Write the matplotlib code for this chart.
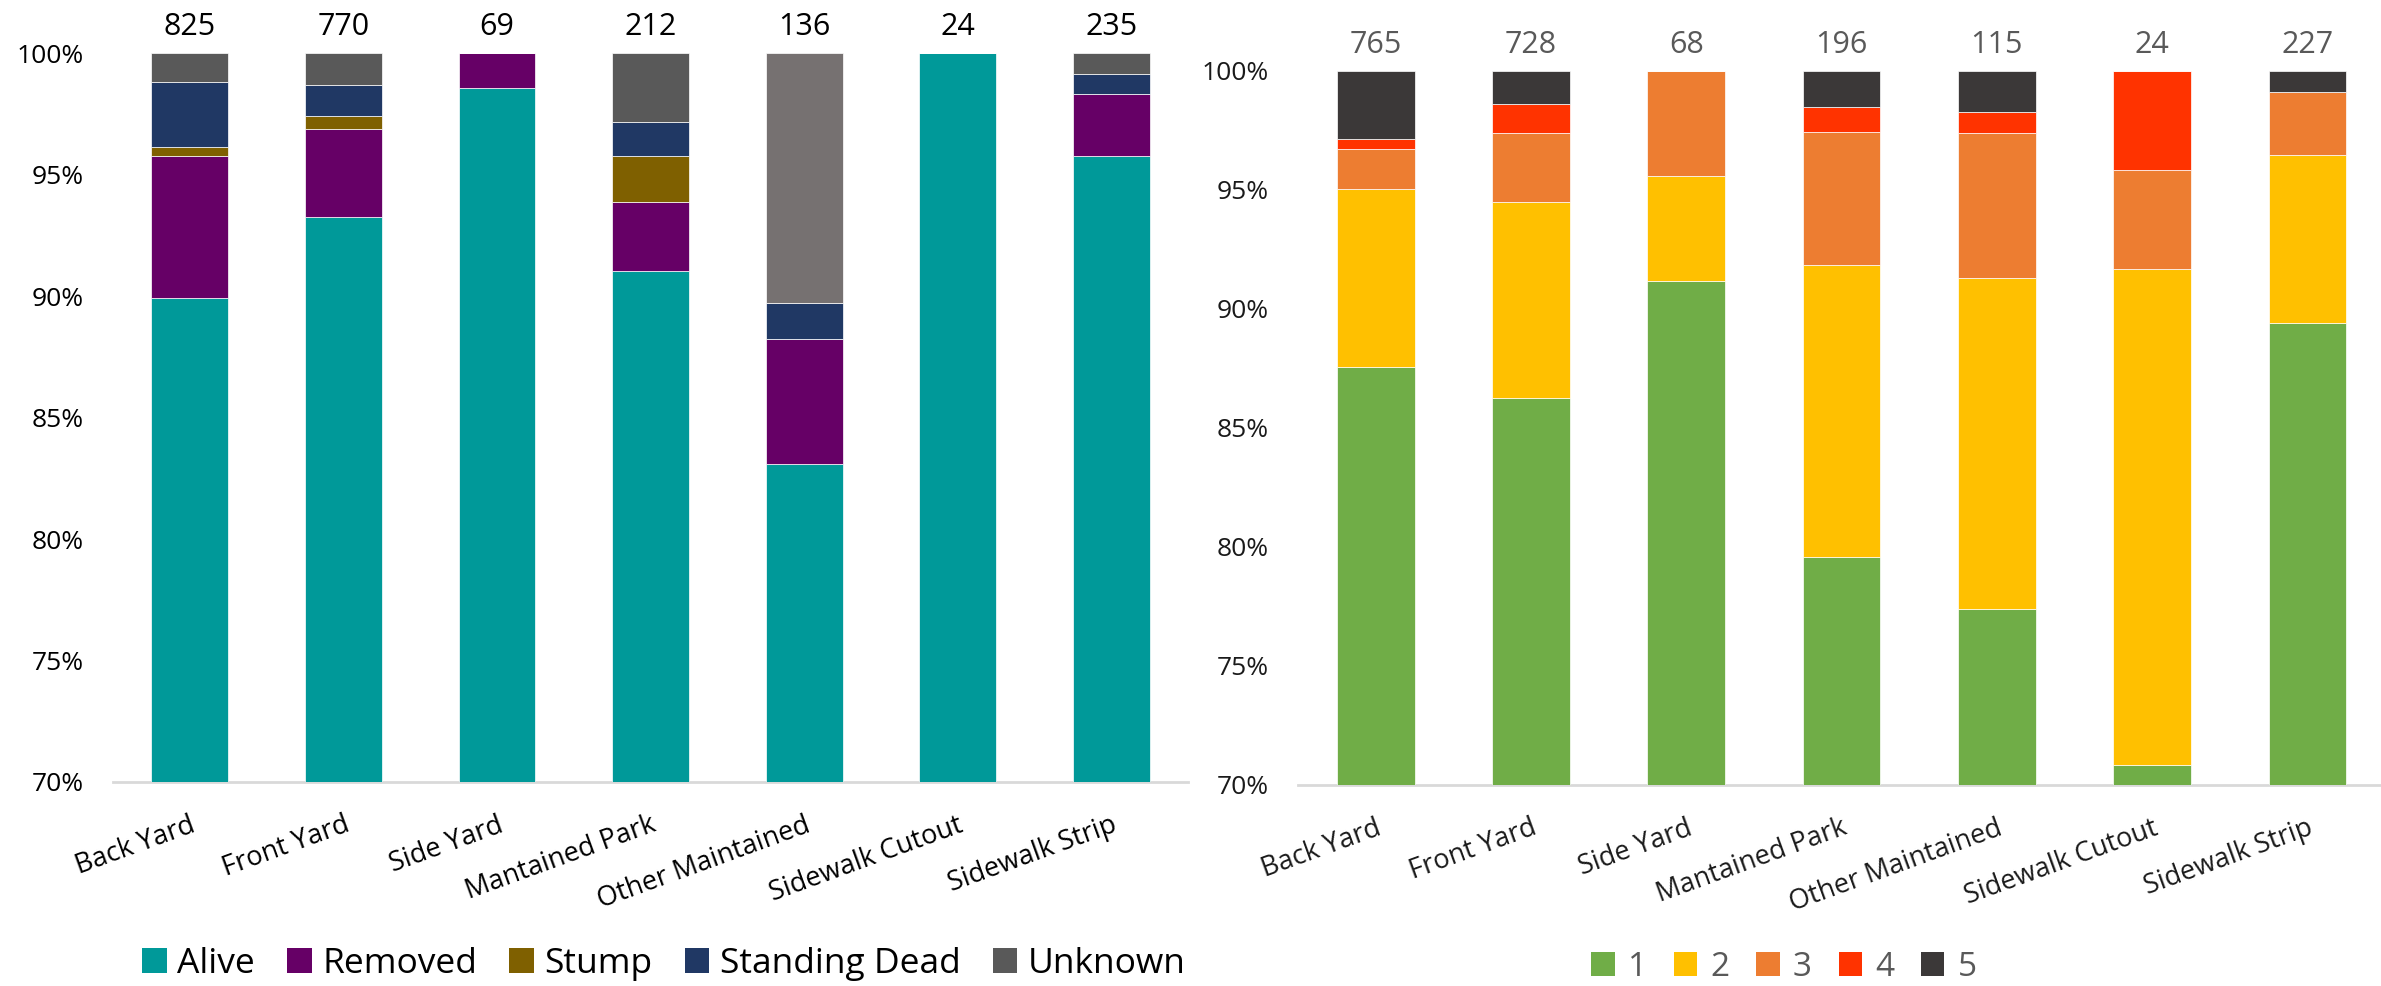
import numpy as np
import matplotlib.pyplot as plt
from matplotlib.patches import Patch
from matplotlib.ticker import PercentFormatter

plt.rcParams['font.family'] = ['Open Sans', 'DejaVu Sans']

locations = ['Back Yard', 'Front Yard', 'Side Yard', 'Mantained Park',
             'Other Maintained', 'Sidewalk Cutout', 'Sidewalk Strip']

# tree status counts per location
alive = [742, 718, 68, 193, 113, 24, 225]
removed = [48, 28, 1, 6, 7, 0, 6]
stump = [3, 4, 0, 4, 0, 0, 0]
standing_dead = [22, 10, 0, 3, 2, 0, 2]
unknown = [10, 10, 0, 6, 14, 0, 2]
status_names = ['Alive', 'Removed', 'Stump', 'Standing Dead', 'Unknown']

# condition rating counts per location
cond1 = [670, 628, 62, 156, 89, 17, 203]
cond2 = [57, 60, 3, 24, 16, 5, 16]
cond3 = [13, 21, 3, 11, 7, 1, 6]
cond4 = [3, 9, 0, 2, 1, 1, 0]
cond5 = [22, 10, 0, 3, 2, 0, 2]
cond_names = ['1', '2', '3', '4', '5']

status_colors = ['#009999', '#660066', '#7F6000', '#203864', '#595959']
cond_colors = ['#70AD47', '#FFC000', '#ED7D31', '#FF3300', '#3B3838']


def stacked(ax, series, colors, total_color, label_color):
    data = np.array(series, dtype=float)
    totals = data.sum(axis=0)
    pct = data / totals * 100
    x = np.arange(len(locations))
    bottom = np.zeros(len(locations))
    bars = []
    for vals, c in zip(pct, colors):
        b = ax.bar(x, vals, 0.5, bottom=bottom, color=c,
                   edgecolor='white', linewidth=0.5)
        bars.append(b)
        bottom += vals
    for xi, t in zip(x, totals):
        ax.annotate(f'{int(t)}', (xi, 100), xytext=(0, 19),
                    textcoords='offset points', ha='center', va='center',
                    fontsize=22, color=total_color, annotation_clip=False)
    ax.set_ylim(70, 100)
    ax.set_xlim(-0.5, len(locations) - 0.5)
    ax.set_yticks(np.arange(70, 101, 5))
    ax.yaxis.set_major_formatter(PercentFormatter(decimals=0))
    ax.tick_params(axis='y', length=0, pad=21, labelsize=19, labelcolor=label_color)
    ax.tick_params(axis='x', length=0)
    ax.set_xticks(x)
    ax.set_xticklabels([])
    for xi, name in zip(x, locations):
        ax.annotate(name, (xi, 70), xytext=(0, -21), textcoords='offset points',
                    rotation=20, rotation_mode='anchor', ha='right', va='top',
                    fontsize=19.5, color=label_color, annotation_clip=False)
    for s in ['top', 'right', 'left']:
        ax.spines[s].set_visible(False)
    ax.spines['bottom'].set_color('#d9d9d9')
    ax.spines['bottom'].set_linewidth(2)
    ax.spines['bottom'].set_zorder(0)
    return bars


fig = plt.figure(figsize=(23.81, 9.86), dpi=100)

ax1 = fig.add_axes([0.0475, 0.2069, 0.4515, 0.7393])
bars1 = stacked(ax1, [alive, removed, stump, standing_dead, unknown],
                status_colors, '#000000', '#000000')
# the Other Maintained unknown segment is a lighter grey
bars1[4][4].set_facecolor('#767171')

ax2 = fig.add_axes([0.5452, 0.2039, 0.4565, 0.7241])
stacked(ax2, [cond1, cond2, cond3, cond4, cond5],
        cond_colors, '#595959', '#1a1a1a')

h1 = [Patch(facecolor=c, label=n) for c, n in zip(status_colors, status_names)]
fig.legend(handles=h1, loc='center', bbox_to_anchor=(664 / 2381, 1 - 964 / 986),
           ncol=5, frameon=False, fontsize=25.5, handlelength=0.7, handleheight=0.7,
           handletextpad=0.3, columnspacing=0.9)

h2 = [Patch(facecolor=c, label=n) for c, n in zip(cond_colors, cond_names)]
leg2 = fig.legend(handles=h2, loc='center', bbox_to_anchor=(1784 / 2381, 1 - 967 / 986),
                  ncol=5, frameon=False, fontsize=24, handlelength=0.7,
                  handleheight=0.7, handletextpad=0.4, columnspacing=0.8)
for t in leg2.get_texts():
    t.set_color('#595959')

fig.savefig('out.png', dpi=100)
